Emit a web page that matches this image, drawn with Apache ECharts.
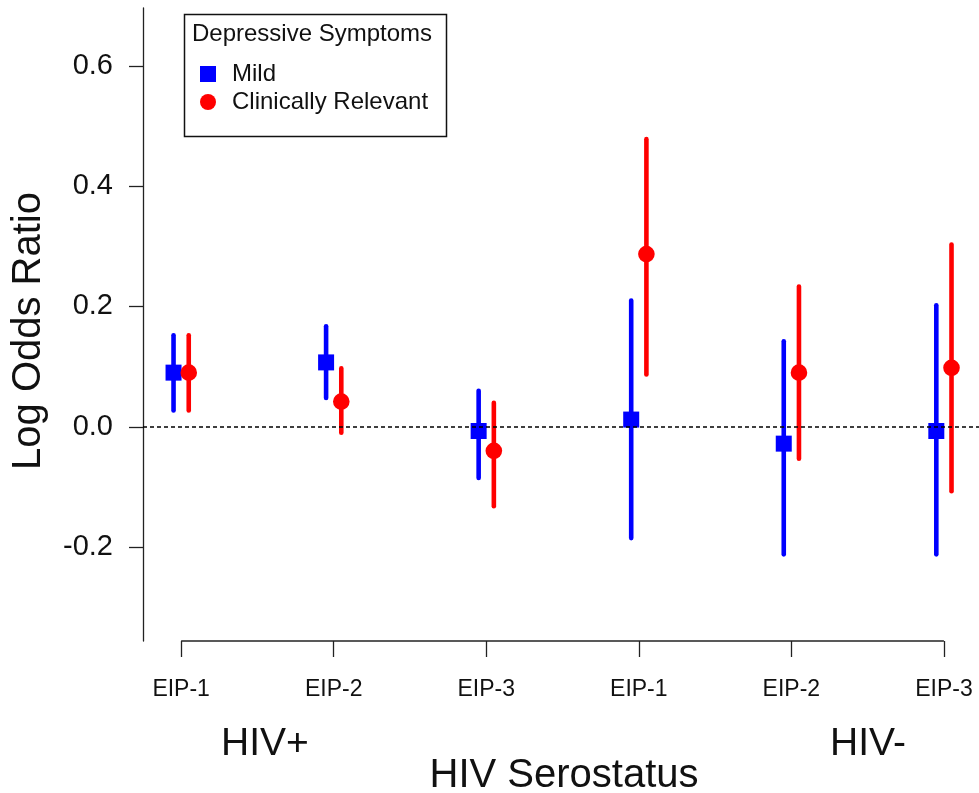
<!DOCTYPE html>
<html><head><meta charset="utf-8">
<script src="https://cdn.jsdelivr.net/npm/echarts@6/dist/echarts.min.js"></script>
<style>html,body{margin:0;padding:0;background:#fff}#c{width:979px;height:793px}</style>
</head><body><div id="c"></div>
<script>
// ---- data ----
const categories = ['EIP-1','EIP-2','EIP-3','EIP-1','EIP-2','EIP-3'];
const categoryPos = [1, 2, 3, 4, 5, 6];
const mildEst = [0.090, 0.107, -0.007, 0.012, -0.028, -0.007];
const mildLo  = [0.027, 0.048, -0.085, -0.185, -0.212, -0.212];
const mildHi  = [0.152, 0.167, 0.060, 0.210, 0.142, 0.202];
const clinEst = [0.090, 0.042, -0.040, 0.287, 0.090, 0.098];
const clinLo  = [0.027, -0.010, -0.132, 0.087, -0.053, -0.107];
const clinHi  = [0.152, 0.097, 0.040, 0.478, 0.233, 0.303];
const yTicks = [-0.2, 0.0, 0.2, 0.4, 0.6];
const seriesNames = ['Mild', 'Clinically Relevant'];
const groupLabels = ['HIV+', 'HIV-'];

const FONT = '"Liberation Sans", Arial, sans-serif';
const X_MIN = 0.75, X_MAX = 6.23, Y_MIN = -0.356, Y_MAX = 0.696;
const BLUE = '#0000ff', RED = '#ff0000';

function makeRender(offset, shape) {
  return function (params, api) {
    const x = api.value(0), m = api.value(1), lo = api.value(2), hi = api.value(3);
    const pm = api.coord([x, m]), pl = api.coord([x, lo]), ph = api.coord([x, hi]);
    const color = api.visual('color');
    const marker = shape === 'rect'
      ? { type: 'rect', shape: { x: pm[0] + offset - 8, y: pm[1] - 8, width: 16, height: 16 }, style: { fill: color } }
      : { type: 'circle', shape: { cx: pm[0] + offset, cy: pm[1], r: 8.3 }, style: { fill: color } };
    return {
      type: 'group',
      children: [
        { type: 'line', shape: { x1: pl[0] + offset, y1: pl[1], x2: ph[0] + offset, y2: ph[1] },
          style: { stroke: color, lineWidth: 4.6, lineCap: 'round' } },
        marker
      ]
    };
  };
}

const chart = echarts.init(document.getElementById('c'), null, { renderer: 'canvas' });
const option = {
  animation: false,
  backgroundColor: '#fff',
  textStyle: { fontFamily: FONT },
  grid: { left: 143, right: 0, top: 8, bottom: 152, containLabel: false },
  legend: {
    orient: 'vertical', left: 200, top: 62, padding: 0,
    itemWidth: 16, itemHeight: 16, itemGap: 4,
    selectedMode: false,
    data: [{ name: seriesNames[0], icon: 'rect' }, { name: seriesNames[1], icon: 'circle' }],
    textStyle: { fontSize: 24, color: '#111', fontFamily: FONT, padding: [0, 0, 0, 11] }
  },
  xAxis: {
    type: 'value', min: X_MIN, max: X_MAX,
    axisLine: { show: false, onZero: false }, splitLine: { show: false },
    axisTick: { show: true, customValues: categoryPos, length: 16, lineStyle: { color: '#222', width: 1.3 } },
    axisLabel: { customValues: categoryPos, formatter: v => categories[Math.round(v) - 1],
      fontSize: 23, color: '#111', margin: 37, fontFamily: FONT }
  },
  yAxis: {
    type: 'value', min: Y_MIN, max: Y_MAX,
    axisLine: { show: true, onZero: false, lineStyle: { color: '#222', width: 1.3 } },
    splitLine: { show: false },
    axisTick: { show: true, customValues: yTicks, length: 14, lineStyle: { color: '#222', width: 1.3 } },
    axisLabel: { customValues: yTicks, formatter: v => v.toFixed(1),
      fontSize: 29, color: '#111', margin: 30, fontFamily: FONT }
  },
  graphic: [
    { type: 'rect', left: 182, top: 12, shape: { width: 262, height: 122 },
      style: { fill: 'none', stroke: '#111', lineWidth: 1.5 } },
    { type: 'text', x: 192, y: 34, style: { text: 'Depressive Symptoms', fontSize: 24, fontFamily: FONT, fill: '#111',
      textAlign: 'left', textVerticalAlign: 'middle', align: 'left', verticalAlign: 'middle' } },
    { type: 'text', x: 29, y: 331, rotation: Math.PI / 2, style: { text: 'Log Odds Ratio', fontSize: 40, fontFamily: FONT, fill: '#111',
      textAlign: 'center', textVerticalAlign: 'middle', align: 'center', verticalAlign: 'middle' } },
    { type: 'text', x: 265, y: 744, style: { text: groupLabels[0], fontSize: 39, fontFamily: FONT, fill: '#111',
      textAlign: 'center', textVerticalAlign: 'middle', align: 'center', verticalAlign: 'middle' } },
    { type: 'text', x: 868, y: 744, style: { text: groupLabels[1], fontSize: 39, fontFamily: FONT, fill: '#111',
      textAlign: 'center', textVerticalAlign: 'middle', align: 'center', verticalAlign: 'middle' } },
    { type: 'text', x: 564, y: 776, style: { text: 'HIV Serostatus', fontSize: 40, fontFamily: FONT, fill: '#111',
      textAlign: 'center', textVerticalAlign: 'middle', align: 'center', verticalAlign: 'middle' } }
  ],
  series: [
    {
      name: 'axisBase', type: 'line', z: 1, silent: true, clip: false, symbol: 'none',
      data: [[categoryPos[0], Y_MIN], [categoryPos[categoryPos.length - 1], Y_MIN]],
      lineStyle: { color: '#222', width: 1.3 },
      markLine: { silent: true, symbol: 'none', label: { show: false },
        data: [{ yAxis: 0 }], lineStyle: { color: '#000', type: [4, 3], width: 1.5 } }
    },
    {
      name: seriesNames[0], type: 'custom', z: 3, itemStyle: { color: BLUE },
      renderItem: makeRender(-7.6, 'rect'),
      encode: { x: 0, y: [1, 2, 3] },
      data: categoryPos.map((x, i) => [x, mildEst[i], mildLo[i], mildHi[i]])
    },
    {
      name: seriesNames[1], type: 'custom', z: 3, itemStyle: { color: RED },
      renderItem: makeRender(7.6, 'circle'),
      encode: { x: 0, y: [1, 2, 3] },
      data: categoryPos.map((x, i) => [x, clinEst[i], clinLo[i], clinHi[i]])
    }
  ]
};
chart.setOption(option);
</script>
</body></html>
